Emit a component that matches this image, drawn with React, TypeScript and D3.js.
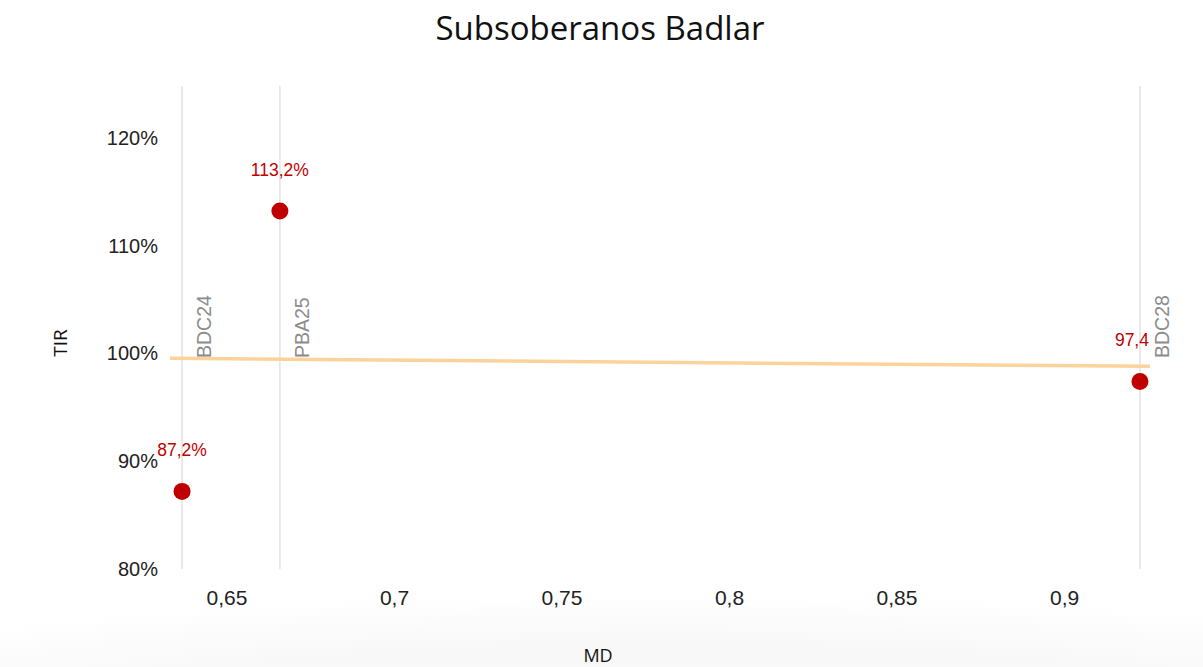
import React, { useEffect, useRef } from 'react';
import * as d3 from 'd3';

// bonos: duración modificada (MD) y TIR
const bonds = ['BDC24', 'PBA25', 'BDC28'];
const md = [0.6366, 0.6658, 0.9225];
const tir = [87.2, 113.2, 97.4];
const pointLabels = ['87,2%', '113,2%', '97,4'];
const xTicks = [0.65, 0.7, 0.75, 0.8, 0.85, 0.9];
const yTicks = [80, 90, 100, 110, 120];

const W = 1203;
const H = 667;

const App: React.FC = () => {
  const ref = useRef<SVGSVGElement>(null);

  useEffect(() => {
    if (!ref.current) return;
    const svg = d3.select(ref.current);
    svg.selectAll('*').remove();

    const x = d3.scaleLinear().domain([0.633, 0.9255]).range([170, 1150]);
    const y = d3.scaleLinear().domain([80, 124.8]).range([569, 86]);

    // fondo con sombra suave abajo
    const defs = svg.append('defs');
    const grad = defs.append('radialGradient').attr('id', 'shade')
      .attr('cx', '0.55').attr('cy', '1.3').attr('r', '0.8');
    grad.append('stop').attr('offset', '0.6').attr('stop-color', '#f0f0f0');
    grad.append('stop').attr('offset', '1').attr('stop-color', '#ffffff');
    svg.append('rect').attr('width', W).attr('height', H).attr('fill', '#fff');
    svg.append('rect').attr('x', 0).attr('y', 520).attr('width', W).attr('height', H - 520)
      .attr('fill', 'url(#shade)').attr('opacity', 0.45);

    const data = bonds.map((b, i) => ({ name: b, x: md[i], y: tir[i], label: pointLabels[i] }));

    // líneas verticales por bono
    svg.selectAll('line.drop').data(data).enter().append('line')
      .attr('x1', d => x(d.x)).attr('x2', d => x(d.x))
      .attr('y1', y(124.8)).attr('y2', y(80))
      .attr('stroke', '#e3e3e3').attr('stroke-width', 1.5);

    // línea de tendencia lineal
    const mx = d3.mean(md)!;
    const my = d3.mean(tir)!;
    const sxy = d3.sum(md.map((v, i) => (v - mx) * (tir[i] - my)));
    const sxx = d3.sum(md.map(v => (v - mx) ** 2));
    const slope = sxy / sxx;
    const icpt = my - slope * mx;
    const [d0, d1] = x.domain();
    svg.append('line')
      .attr('x1', x(d0)).attr('y1', y(icpt + slope * d0))
      .attr('x2', x(d1)).attr('y2', y(icpt + slope * d1))
      .attr('stroke', '#fbd39a').attr('stroke-width', 3.5);

    // etiquetas verticales
    svg.selectAll('text.bond').data(data).enter().append('text')
      .attr('transform', d => `translate(${x(d.x) + 29},358) rotate(-90)`)
      .attr('fill', '#8c8c8c')
      .style('font-family', 'Liberation Sans, Arial, sans-serif')
      .style('font-size', '19.5px')
      .text(d => d.name);

    // puntos
    svg.selectAll('circle').data(data).enter().append('circle')
      .attr('cx', d => x(d.x)).attr('cy', d => y(d.y))
      .attr('r', 8.5).attr('fill', '#c00000');

    // etiquetas de datos
    const lblOffset = [[0, -35], [0, -35], [-8, -35]];
    svg.selectAll('text.val').data(data).enter().append('text')
      .attr('x', (d, i) => x(d.x) + lblOffset[i][0])
      .attr('y', (d, i) => y(d.y) + lblOffset[i][1])
      .attr('text-anchor', 'middle')
      .attr('fill', '#c00000')
      .style('font-family', 'Liberation Sans, Arial, sans-serif')
      .style('font-size', '17.5px')
      .text(d => d.label);

    // eje Y
    svg.selectAll('text.ytick').data(yTicks).enter().append('text')
      .attr('x', 158).attr('y', d => y(d) + 7)
      .attr('text-anchor', 'end')
      .attr('fill', '#222')
      .style('font-family', 'Liberation Sans, Arial, sans-serif')
      .style('font-size', '20px')
      .text(d => `${d}%`);

    // eje X
    svg.selectAll('text.xtick').data(xTicks).enter().append('text')
      .attr('x', d => x(d)).attr('y', 605)
      .attr('text-anchor', 'middle')
      .attr('fill', '#222')
      .style('font-family', 'Liberation Sans, Arial, sans-serif')
      .style('font-size', '21px')
      .text(d => String(d).replace('.', ','));

    // títulos
    svg.append('text').attr('x', 600).attr('y', 40)
      .attr('text-anchor', 'middle').attr('fill', '#111')
      .style('font-family', 'Open Sans, sans-serif').style('font-size', '33px')
      .text('Subsoberanos Badlar');
    svg.append('text').attr('transform', 'translate(67,343) rotate(-90)')
      .attr('text-anchor', 'middle').attr('fill', '#111')
      .style('font-family', 'Open Sans, sans-serif').style('font-size', '19px')
      .text('TIR');
    svg.append('text').attr('x', 598).attr('y', 662)
      .attr('text-anchor', 'middle').attr('fill', '#111')
      .style('font-family', 'Open Sans, sans-serif').style('font-size', '18px')
      .text('MD');
  }, []);

  return (
    <svg ref={ref} width={W} height={H} style={{ position: 'absolute', left: 0, top: 0 }}></svg>
  );
};

export default App;
